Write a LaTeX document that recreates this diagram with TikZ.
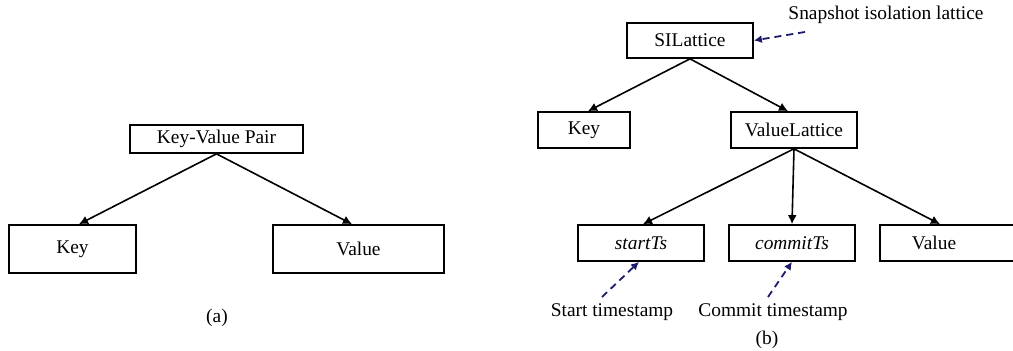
\documentclass[tikz,border=0pt]{standalone}
\usepackage{fontspec}
\setmainfont{Liberation Serif}
\usetikzlibrary{arrows.meta}
\definecolor{note}{HTML}{1C1C6A}
\begin{document}
\begin{tikzpicture}[x=0.5pt,y=-0.5pt,
  box/.style={draw,line width=0.85pt,inner sep=0pt,minimum height=18pt,font=\fontsize{9.7}{11}\selectfont},
  lbl/.style={inner sep=0pt,font=\fontsize{9.7}{11}\selectfont},
  link/.style={line width=0.8pt,-{Latex[length=4.5pt,width=4.5pt]}},
  hint/.style={line width=0.9pt,color=note,dash pattern=on 3.5pt off 2.5pt,-{Latex[length=4pt,width=4pt]}}]
\useasboundingbox (0,0) rectangle (1013,351);
% (a)
\node[box,minimum width=86.5pt,minimum height=14pt] (atop) at (216.5,139) {Key-Value Pair};
\node[box,minimum width=63.5pt,minimum height=24pt] (akey) at (72.5,249) {Key};
\node[box,minimum width=85.5pt,minimum height=24pt] (aval) at (358.5,249) {Value};
\node[lbl] (acap) at (217,318) {(a)};
\draw[link] (atop.south) -- ([xshift=3.25pt]akey.north);
\draw[link] (atop.south) -- ([xshift=-3.25pt]aval.north);
% (b)
\node[box,minimum width=63pt,minimum height=17.5pt] (si) at (690,40.5) {SILattice};
\node[box,minimum width=46pt] (bkey) at (584,130) {Key};
\node[box,minimum width=63pt] (vl) at (794,130) {ValueLattice};
\node[box,minimum width=63pt] (st) at (641,243) {\itshape startTs};
\node[box,minimum width=63pt] (ct) at (792,243) {\itshape commitTs};
\node[box,minimum width=70pt] (bval) at (950,243) {};
\node[lbl] (bvalt) at (934,243) {Value};
\node[lbl] (snap) at (886,15) {Snapshot isolation lattice};
\node[lbl] (stl) at (612,312) {Start timestamp};
\node[lbl] (ctl) at (773,312) {Commit timestamp};
\node[lbl] (bcap) at (767,340) {(b)};
\draw[link] (si.south) -- ([xshift=2pt]bkey.north);
\draw[link] (si.south) -- ([xshift=-3pt]vl.north);
\draw[link] (vl.south) -- ([xshift=1pt]st.north);
\draw[link] (vl.south) -- (ct.north);
\draw[link] (vl.south) -- ([xshift=-5pt]bval.north);
\coordinate (s1) at (805,32);
\coordinate (s2) at (602,297);
\coordinate (s3) at (768,297);
\draw[hint] (s1) -- (si.east);
\draw[hint] (s2) -- ([xshift=-1pt]st.south);
\draw[hint] (s3) -- (ct.south);
\end{tikzpicture}
\end{document}
